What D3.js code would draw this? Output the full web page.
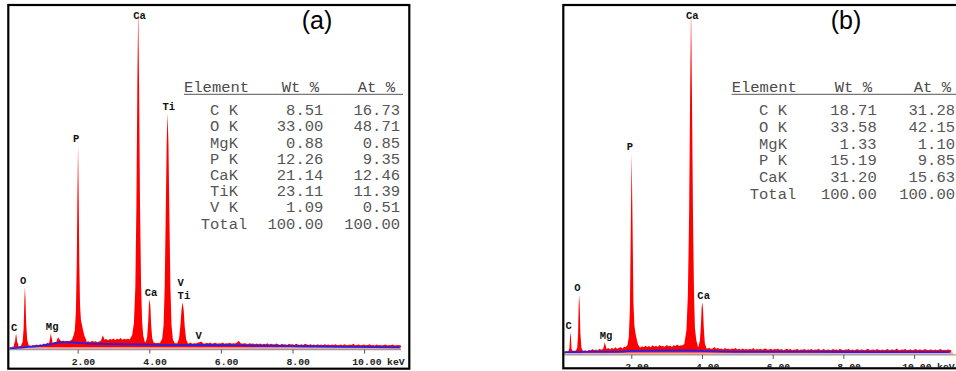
<!DOCTYPE html>
<html>
<head>
<meta charset="utf-8">
<script src="https://cdn.jsdelivr.net/npm/d3@7/dist/d3.min.js"></script>
<style>
  body { margin: 0; background: #fff; }
  svg { display: block; }
  .mono { font-family: "Liberation Mono", "DejaVu Sans Mono", monospace; white-space: pre; }
</style>
</head>
<body>
<svg id="chart" width="956" height="371"></svg>
<script>
// ---- data (counts are relative, 1000 = tallest Ca peak) ----
const energyStart = 0.10;
const energyStep = 0.05;
const xTicks = [2, 4, 6, 8, 10];

// background counts, one value per 0.05 keV from 0.10 keV (rows of 1 keV)
const backgroundA = [
  5, 6, 7, 8, 8, 8, 9, 9, 10, 10, 10, 10, 9, 12, 10, 13, 11, 14, 12, 16,
  14, 18, 16, 19, 17, 21, 20, 34, 27, 22, 25, 21, 24, 22, 25, 28, 30, 32, 32, 32,
  30, 27, 24, 21, 23, 20, 24, 21, 23, 20, 22, 24, 40, 27, 29, 25, 30, 27, 31, 26,
  30, 28, 32, 27, 30, 28, 30, 28, 28, 27, 26, 26, 26, 25, 24, 22, 20, 20, 20, 20,
  19, 18, 17, 18, 17, 18, 18, 18, 18, 18, 18, 17, 17, 17, 16, 16, 16, 16, 16, 15,
  16, 19, 15, 17, 16, 18, 20, 22, 17, 15, 18, 16, 19, 15, 17, 18, 15, 17, 16, 19,
  15, 17, 16, 18, 15, 17, 16, 19, 24, 17, 15, 17, 16, 14, 17, 15, 16, 14, 16, 14,
  16, 13, 15, 14, 17, 13, 15, 14, 13, 16, 14, 12, 15, 13, 14, 12, 15, 13, 14, 12,
  15, 13, 12, 14, 12, 15, 13, 12, 14, 12, 13, 11, 14, 12, 13, 11, 14, 12, 13, 11,
  13, 12, 14, 11, 12, 13, 11, 14, 12, 11, 13, 12, 15, 11, 12, 13, 11, 12, 13, 11,
  12, 14, 11, 12, 10, 13, 11, 12, 10, 12, 13, 10, 12, 11, 13, 10, 11, 12, 11, 10
];
const backgroundB = [
  6, 8, 8, 9, 9, 10, 10, 11, 11, 11, 10, 10, 12, 9, 13, 11, 15, 12, 14, 11,
  16, 13, 15, 17, 15, 18, 14, 19, 15, 20, 16, 18, 21, 17, 22, 20, 24, 25, 25, 25,
  24, 23, 22, 19, 23, 20, 25, 21, 24, 20, 26, 22, 25, 21, 27, 23, 24, 22, 27, 23,
  25, 21, 26, 24, 28, 24, 26, 25, 25, 24, 24, 24, 23, 23, 22, 22, 21, 21, 20, 20,
  18, 16, 19, 15, 17, 21, 16, 18, 15, 17, 14, 18, 15, 16, 14, 17, 15, 18, 14, 16,
  13, 17, 14, 15, 13, 16, 14, 18, 13, 15, 14, 16, 13, 15, 17, 13, 14, 16, 13, 15,
  14, 16, 13, 15, 12, 14, 16, 13, 15, 12, 14, 13, 16, 12, 14, 13, 15, 12, 14, 13,
  15, 12, 14, 13, 16, 12, 13, 15, 12, 14, 13, 12, 15, 13, 14, 12, 16, 13, 12, 14,
  13, 15, 12, 14, 12, 13, 15, 12, 14, 13, 12, 14, 16, 12, 13, 14, 12, 15, 13, 12,
  14, 12, 13, 15, 12, 13, 14, 12, 17, 13, 12, 14, 13, 15, 12, 13, 14, 12, 13, 15,
  12, 14, 13, 12, 15, 13, 12, 14, 13, 12, 14, 12, 13, 15, 12, 13, 12, 14, 13, 12
];

// peaks as [keV, counts] points
const peaksA = [
  [[0.22, 14], [0.25, 22], [0.27, 40], [0.28, 44], [0.29, 38], [0.31, 20], [0.34, 14]],
  [[0.42, 12], [0.46, 20], [0.49, 60], [0.51, 140], [0.525, 181], [0.54, 150], [0.56, 75], [0.59, 26], [0.63, 11]],
  [[1.20, 16], [1.23, 32], [1.25, 46], [1.27, 34], [1.30, 18]],
  [[1.84, 28], [1.88, 38], [1.92, 55], [1.95, 110], [1.975, 260], [1.99, 430], [2.01, 596], [2.03, 420],
   [2.045, 250], [2.065, 130], [2.09, 85], [2.12, 70], [2.15, 55], [2.19, 38], [2.24, 26]],
  [[3.45, 28], [3.52, 40], [3.57, 75], [3.61, 180], [3.64, 420], [3.665, 760], [3.69, 1000], [3.715, 770],
   [3.74, 430], [3.77, 190], [3.80, 80], [3.83, 40], [3.87, 22]],
  [[3.90, 20], [3.94, 35], [3.97, 80], [3.99, 130], [4.01, 146], [4.03, 125], [4.05, 75], [4.08, 32], [4.12, 19]],
  [[4.30, 18], [4.36, 30], [4.40, 70], [4.43, 180], [4.46, 400], [4.485, 600], [4.51, 690], [4.535, 600],
   [4.56, 400], [4.59, 180], [4.62, 70], [4.66, 28], [4.71, 17]],
  [[4.78, 17], [4.83, 30], [4.87, 70], [4.90, 115], [4.93, 137], [4.96, 115], [4.99, 65], [5.03, 28], [5.08, 16]]
];
const peaksB = [
  [[0.22, 8], [0.25, 18], [0.27, 55], [0.28, 64], [0.29, 52], [0.31, 16], [0.34, 9]],
  [[0.43, 10], [0.47, 18], [0.495, 60], [0.51, 140], [0.525, 173], [0.54, 140], [0.56, 60], [0.59, 18], [0.63, 10]],
  [[1.20, 14], [1.23, 26], [1.25, 35], [1.27, 27], [1.30, 15]],
  [[1.84, 20], [1.89, 26], [1.93, 50], [1.96, 130], [1.985, 360], [2.01, 581], [2.035, 380], [2.06, 150],
   [2.09, 80], [2.12, 60], [2.15, 45], [2.19, 28], [2.24, 20]],
  [[3.42, 24], [3.50, 30], [3.56, 70], [3.60, 170], [3.635, 400], [3.665, 760], [3.69, 1000], [3.715, 760],
   [3.745, 400], [3.775, 170], [3.80, 75], [3.84, 40], [3.88, 25]],
  [[3.90, 22], [3.94, 40], [3.97, 85], [3.99, 135], [4.01, 150], [4.03, 128], [4.05, 78], [4.08, 32], [4.13, 16]]
];

// fitted background (blue line)
const fitA = [[0.10, 2], [0.50, 5], [0.95, 9], [1.30, 15], [1.60, 20], [1.90, 19], [2.20, 16.5], [2.60, 15],
  [3.00, 14], [4.00, 12.6], [5.00, 12], [5.60, 11.7], [7.00, 9.5], [8.20, 8], [9.50, 6.5], [11.00, 5]];
const fitB = [[0.10, 6], [0.50, 6.5], [1.00, 7], [1.80, 8], [2.00, 10], [3.00, 11], [3.70, 11], [4.10, 9],
  [5.00, 7], [7.00, 6.8], [9.00, 6.5], [11.00, 6.5]];

// peak labels: text, line energy, peak counts, stack row
const labelsA = [
  { text: "C", keV: 0.277, counts: 44, row: 0 },
  { text: "O", keV: 0.525, counts: 181, row: 0 },
  { text: "Mg", keV: 1.25, counts: 46, row: 0 },
  { text: "P", keV: 2.01, counts: 596, row: 0 },
  { text: "Ca", keV: 3.69, counts: 1000, row: 0 },
  { text: "Ca", keV: 4.01, counts: 146, row: 0 },
  { text: "Ti", keV: 4.51, counts: 690, row: 0 },
  { text: "Ti", keV: 4.93, counts: 137, row: 0 },
  { text: "V", keV: 4.93, counts: 137, row: 1 },
  { text: "V", keV: 5.43, counts: 20, row: 0 }
];
const labelsB = [
  { text: "C", keV: 0.277, counts: 64, row: 0 },
  { text: "O", keV: 0.525, counts: 173, row: 0 },
  { text: "Mg", keV: 1.25, counts: 35, row: 0 },
  { text: "P", keV: 2.01, counts: 581, row: 0 },
  { text: "Ca", keV: 3.69, counts: 1000, row: 0 },
  { text: "Ca", keV: 4.01, counts: 150, row: 0 }
];

// quantification tables
const elementsA = ["C K", "O K", "MgK", "P K", "CaK", "TiK", "V K", "Total"];
const wtA = [8.51, 33.00, 0.88, 12.26, 21.14, 23.11, 1.09, 100.00];
const atA = [16.73, 48.71, 0.85, 9.35, 12.46, 11.39, 0.51, 100.00];
const elementsB = ["C K", "O K", "MgK", "P K", "CaK", "Total"];
const wtB = [18.71, 33.58, 1.33, 15.19, 31.20, 100.00];
const atB = [31.28, 42.15, 1.10, 9.85, 15.63, 100.00];

// ---- drawing ----
const svg = d3.select("#chart");

function drawPanel(id, p, background, peaks, fit, labels, elements, wt, at) {
  const x = d3.scaleLinear().domain([0, 11]).range([p.x0, p.x0 + 11 * p.pxPerKeV]);
  const y = d3.scaleLinear().domain([0, 1000]).range([p.baseline, p.peakTop]);

  svg.append("clipPath").attr("id", "clip" + id)
    .append("rect")
    .attr("x", p.left + 1).attr("y", p.top + 1)
    .attr("width", p.right - p.left - 2).attr("height", p.bottom - p.top - 2);
  svg.append("clipPath").attr("id", "plot" + id)
    .append("rect")
    .attr("x", p.left + 1).attr("y", p.top + 1)
    .attr("width", p.plotRight - p.left - 1).attr("height", p.baseline - p.top);

  const g = svg.append("g").attr("clip-path", `url(#clip${id})`);
  const plot = g.append("g").attr("clip-path", `url(#plot${id})`);

  const area = d3.area()
    .x(d => x(d[0]))
    .y0(y(0))
    .y1(d => y(d[1]));

  const bgPoints = background.map((c, i) => [energyStart + i * energyStep, c]);
  plot.append("path").datum(bgPoints).attr("d", area).attr("fill", "#ff0000");

  plot.selectAll(".peak")
    .data(peaks)
    .enter().append("path")
    .attr("class", "peak")
    .attr("d", area)
    .attr("fill", "#ff0000");

  // light band at the bottom of the fill and the axis line
  plot.append("rect")
    .attr("x", x(0)).attr("y", p.baseline - 1.8)
    .attr("width", x(11.1) - x(0)).attr("height", 1.8)
    .attr("fill", "#f5a3a3");

  plot.append("path")
    .datum(fit)
    .attr("d", d3.line().x(d => x(d[0])).y(d => y(d[1])).curve(d3.curveMonotoneX))
    .attr("fill", "none")
    .attr("stroke", "#2222ee")
    .attr("stroke-width", 1.8);

  g.append("line")
    .attr("x1", p.left).attr("x2", p.plotRight)
    .attr("y1", p.baseline + 0.6).attr("y2", p.baseline + 0.6)
    .attr("stroke", "#9a9a9a").attr("stroke-width", 1.3);

  const axis = g.append("g")
    .attr("transform", `translate(0,${p.baseline + 0.6})`)
    .call(d3.axisBottom(x).tickValues(xTicks).tickSize(4).tickSizeOuter(0)
      .tickFormat(d => d3.format(".2f")(d)));
  axis.select(".domain").remove();
  axis.selectAll(".tick line").attr("stroke", "#555");
  axis.selectAll(".tick text")
    .attr("class", "mono")
    .attr("text-anchor", "end")
    .attr("x", 17)
    .attr("y", 8.5)
    .attr("fill", "#222")
    .style("font-size", "9.8px")
    .style("font-weight", "bold");
  g.append("text")
    .attr("class", "mono")
    .attr("x", x(10) + 23)
    .attr("y", p.baseline + 16.1)
    .attr("fill", "#222")
    .style("font-size", "9.8px")
    .style("font-weight", "bold")
    .text("keV");

  // peak labels
  g.selectAll(".plabel")
    .data(labels)
    .enter().append("text")
    .attr("class", "mono plabel")
    .attr("x", d => x(d.keV) - 5)
    .attr("y", d => Math.max(y(d.counts) - 7 - d.row * 12.6, 15.7) + 3.6)
    .attr("fill", "#111")
    .style("font-size", "10.5px")
    .style("font-weight", "bold")
    .text(d => d.text);

  // quantification table
  const t = p.table;
  const tg = g.append("g").attr("class", "mono").attr("fill", "#555").style("font-size", "15.5px");
  tg.append("text").attr("x", t.headLeft).attr("y", t.headY).attr("fill", "#4a4a4a").text("Element");
  tg.append("text").attr("x", t.wtHead).attr("y", t.headY).attr("text-anchor", "end").attr("fill", "#4a4a4a").text("Wt %");
  tg.append("text").attr("x", t.atHead).attr("y", t.headY).attr("text-anchor", "end").attr("fill", "#4a4a4a").text("At %");
  tg.append("line")
    .attr("x1", t.headLeft).attr("x2", t.lineEnd)
    .attr("y1", t.headY + 2.4).attr("y2", t.headY + 2.4)
    .attr("stroke", "#777").attr("stroke-width", 1.4);

  const rows = tg.selectAll(".row")
    .data(elements)
    .enter().append("g")
    .attr("class", "row")
    .attr("transform", (d, i) => `translate(0,${t.rowY0 + i * t.rowStep})`);
  rows.append("text").attr("x", t.elemCenter).attr("text-anchor", "middle").text(d => d);
  rows.append("text").attr("x", t.wtRight).attr("text-anchor", "end").text((d, i) => wt[i].toFixed(2));
  rows.append("text").attr("x", t.atRight).attr("text-anchor", "end").text((d, i) => at[i].toFixed(2));

  // panel tag
  g.append("text")
    .attr("x", p.tagX).attr("y", 29)
    .attr("text-anchor", "middle")
    .style("font-family", "'Liberation Sans', Arial, sans-serif")
    .style("font-size", "25px")
    .attr("fill", "#000")
    .text(p.tag);

  // frame
  svg.append("rect")
    .attr("x", p.left).attr("y", p.top)
    .attr("width", p.right - p.left).attr("height", p.bottom - p.top)
    .attr("fill", "none").attr("stroke", "#000").attr("stroke-width", 2.2);
}

drawPanel("A", {
  left: 8.3, top: 5, right: 409.3, bottom: 368.7, plotRight: 401,
  x0: 6.1, pxPerKeV: 35.8, baseline: 349, peakTop: 7,
  tag: "(a)", tagX: 317,
  table: { headLeft: 184, wtHead: 319, atHead: 395, lineEnd: 403, headY: 92,
    elemCenter: 224, wtRight: 323.3, atRight: 400, rowY0: 115.3, rowStep: 16.19 }
}, backgroundA, peaksA, fitA, labelsA, elementsA, wtA, atA);

drawPanel("B", {
  left: 563.3, top: 5, right: 1010, bottom: 368.3, plotRight: 1000,
  x0: 560.6, pxPerKeV: 35.35, baseline: 354.3, peakTop: 8,
  tag: "(b)", tagX: 846,
  table: { headLeft: 731.7, wtHead: 872, atHead: 951, lineEnd: 960, headY: 92,
    elemCenter: 773, wtRight: 876.7, atRight: 955, rowY0: 115.3, rowStep: 16.67 }
}, backgroundB, peaksB, fitB, labelsB, elementsB, wtB, atB);
</script>
</body>
</html>
